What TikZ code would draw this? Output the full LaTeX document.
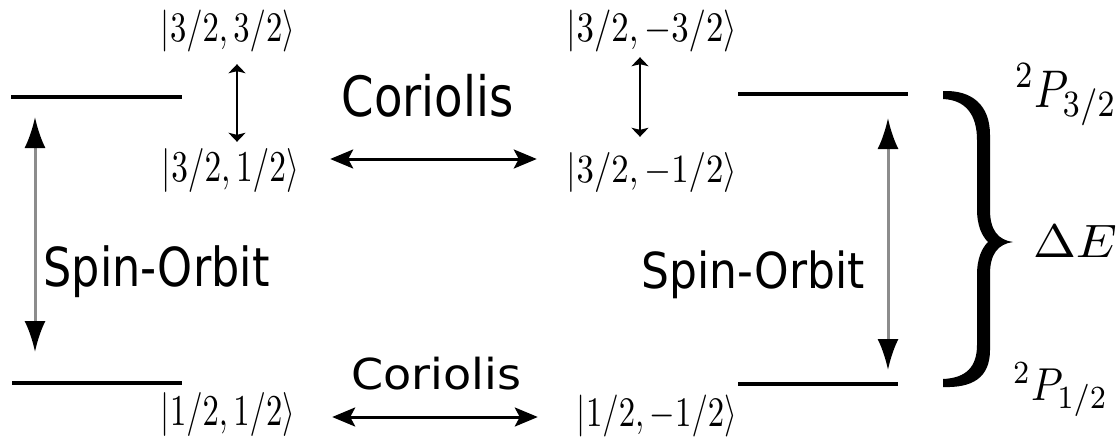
\documentclass[tikz,border=0pt]{standalone}
\usepackage{fontspec}
\setsansfont{DejaVu Sans}
\usepackage{graphicx}
\usetikzlibrary{arrows.meta}
% stretch a label to a given width and total height (pt)
\newcommand{\fitto}[3]{\resizebox*{#1pt}{#2pt}{#3}}

\begin{document}
\begin{tikzpicture}[
    x=1pt, y=-1pt,
    ket/.style={inner sep=0pt},
    lbl/.style={inner sep=0pt, font=\sffamily},
    level/.style={line width=4pt},
    so/.style={line width=3pt, black!45,
      {Latex[length=31pt,width=21pt,color=black]}-{Latex[length=31pt,width=21pt,color=black]}},
    mix/.style={line width=1.8pt,
      {Stealth[length=9pt,width=17pt,inset=2pt]}-{Stealth[length=9pt,width=17pt,inset=2pt]}},
    cor/.style={line width=3pt,
      {Stealth[length=23pt,width=19pt,inset=5pt]}-{Stealth[length=23pt,width=19pt,inset=5pt]}}
  ]
  \useasboundingbox (0,0) rectangle (1119,437);

  % energy levels
  \draw[level] (11,97) -- (182,97);
  \draw[level] (738,94) -- (908,94);
  \draw[level] (12,383) -- (182,383);
  \draw[level] (738,384) -- (898,384);

  % states
  \node[ket] (k1) at (228,31) {\fitto{134}{42}{$|3/2,3/2\rangle$}};
  \node[ket] (k2) at (230.5,170) {\fitto{137}{44}{$|3/2,1/2\rangle$}};
  \node[ket] (k3) at (652,31) {\fitto{170}{42}{$|3/2,-3/2\rangle$}};
  \node[ket] (k4) at (652,172) {\fitto{170}{40}{$|3/2,-1/2\rangle$}};
  \node[ket] (k5) at (228,414) {\fitto{134}{44}{$|1/2,1/2\rangle$}};
  \node[ket] (k6) at (657,416) {\fitto{160}{42}{$|1/2,-1/2\rangle$}};

  % couplings
  \node[lbl] (corA) at (427.5,96) {\fitto{172}{43}{Coriolis}};
  \node[lbl] (corB) at (436.5,374) {\fitto{170}{33}{Coriolis}};
  \node[lbl] (soA) at (156.5,272) {\fitto{226}{52}{Spin-Orbit}};
  \node[lbl] (soB) at (753,275) {\fitto{223}{48}{Spin-Orbit}};

  % terms
  \node[ket] (p3) at (1066,95) {\fitto{102}{62}{$^2P_{3/2}$}};
  \node[ket] (p1) at (1060.5,390) {\fitto{95}{54}{$^2P_{1/2}$}};
  \node[ket] (dE) at (1075,241) {\fitto{84}{32}{$\Delta E$}};

  \coordinate (soL1) at (35,117);
  \coordinate (soL2) at (35,352);
  \coordinate (soR1) at (888,118);
  \coordinate (soR2) at (888,370);
  \draw[so] (soL1) -- (soL2);
  \draw[so] (soR1) -- (soR2);

  \draw[mix] ([xshift=9pt,yshift=-12pt]k1.south) -- ([xshift=6.5pt,yshift=6pt]k2.north);
  \draw[mix] ([xshift=-12pt,yshift=-5pt]k3.south) -- ([xshift=-12pt,yshift=15pt]k4.north);

  \draw[cor] ([xshift=31pt,yshift=11pt]k2.east) -- ([xshift=-30pt,yshift=13pt]k4.west);
  \draw[cor] ([xshift=37pt,yshift=-3pt]k5.east) -- ([xshift=-39pt,yshift=-1pt]k6.west);

  % brace
  \fill (943,91) .. controls (972,90) and (990,105) .. (990,135) -- (990,210)
    .. controls (990,230) and (998,240) .. (1013,242)
    .. controls (998,244) and (990,254) .. (990,274) -- (990,350)
    .. controls (990,378) and (972,388) .. (943,387) -- (943,379)
    .. controls (966,378) and (977,367) .. (977,345) -- (977,275)
    .. controls (977,258) and (982,248) .. (988,242)
    .. controls (982,236) and (977,226) .. (977,209) -- (977,140)
    .. controls (977,115) and (966,100) .. (943,99) -- cycle;
\end{tikzpicture}
\end{document}
